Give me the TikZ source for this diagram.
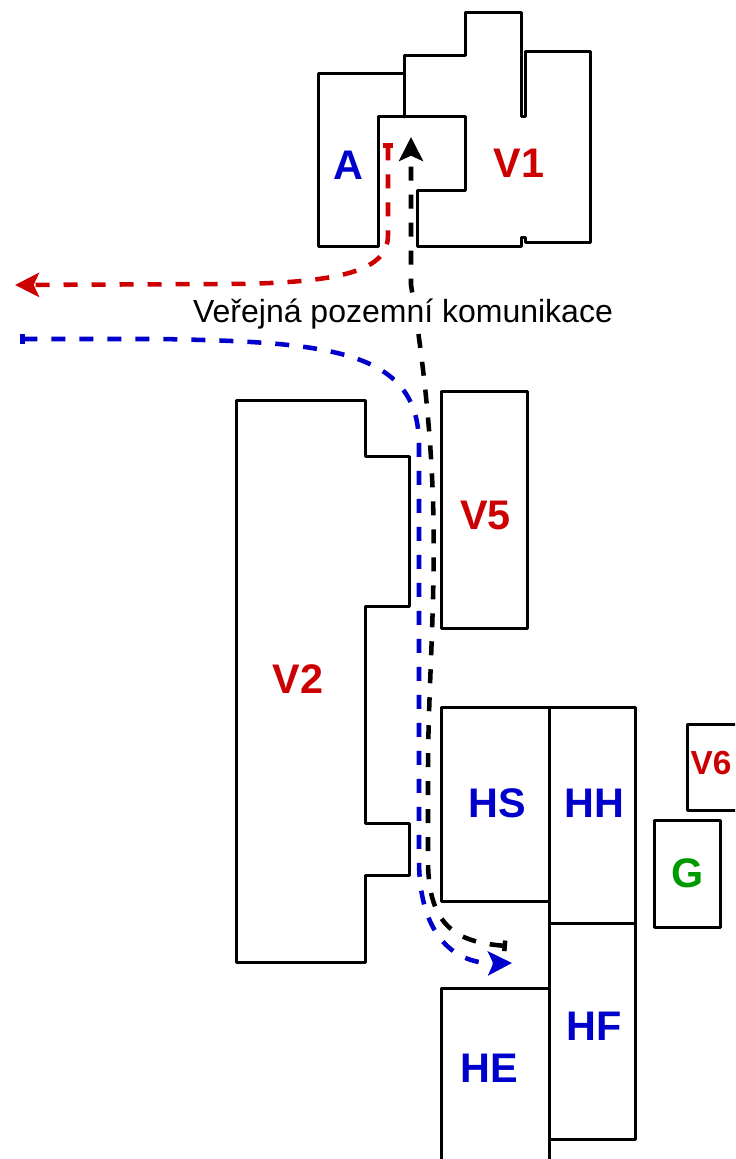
\documentclass[tikz,border=0pt]{standalone}
\usepackage{fontspec}
\setmainfont{Liberation Sans}
\usetikzlibrary{arrows.meta}
\definecolor{routered}{HTML}{CC0000}
\definecolor{routeblue}{HTML}{0000CC}
\definecolor{routegreen}{HTML}{009900}
\begin{document}
\begin{tikzpicture}[line cap=round,line join=round,x=0.75pt,y=-0.75pt,
  building/.style={line width=2.25pt},
  route/.style={line width=3.4pt,line cap=butt,dash pattern=on 10.5pt off 10.5pt},
  routetips/.style={{Bar[width=8pt,length=3pt]}-{Stealth[length=18pt,width=18pt,inset=4pt]}},
  biglabel/.style={font=\bfseries\fontsize{31}{31}\selectfont,inner sep=0pt},
  roadlabel/.style={font=\fontsize{24}{24}\selectfont,fill=white,inner sep=2pt}]
\useasboundingbox (0,0) rectangle (735,1159);
\clip (0,0) rectangle (735,1159);
\draw [building] (404,117) -- (404,74) -- (318,74) -- (318,246) -- (378,246) -- (378,117) -- (465,117) -- (465,190) -- (417,190) -- (417,246) -- (521,246) -- (521,237) -- (525,237) -- (525,242) -- (590,242) -- (590,52) -- (525,52) -- (525,117) -- (521,117) -- (521,13) -- (465,13) -- (465,56) -- (404,56) -- cycle;
\draw [building] (236,400) -- (365,400) -- (365,456) -- (409,456) -- (409,606) -- (365,606) -- (365,823) -- (409,823) -- (409,875) -- (365,875) -- (365,962) -- (236,962) -- cycle;
\draw [building] (441,391) rectangle (527,628);
\draw [building] (441,707) rectangle (549,901);
\draw [building] (549,707) rectangle (635,923);
\draw [building] (549,923) rectangle (635,1139);
\draw [building] (441,988) rectangle (549,1175);
\draw [building] (687,724) rectangle (745,810);
\draw [building] (654,820) rectangle (720,927);
\coordinate (redstart) at (388,143);
\coordinate (redend) at (15,285);
\coordinate (bluestart) at (20,339);
\coordinate (blueend) at (512,963);
\coordinate (blackstart) at (507,946);
\coordinate (blackend) at (411,137);
\draw [route,routered,routetips] (redstart) -- (388,235) .. controls (388,268) and (350,284) .. (220,284) -- (redend);
\draw [route,routetips] (blackstart) .. controls (455,942) and (428,925) .. (428,860) -- (428,770) .. controls (428,690) and (436,600) .. (433,500) .. controls (431,440) and (425,370) .. (411,285) -- (blackend);
\node [roadlabel] (roadname) at (403,314) {Veřejná pozemní komunikace};
\draw [route,routeblue,routetips] (bluestart) -- (160,339) .. controls (330,342) and (419,350) .. (419,445) -- (419,860) .. controls (419,930) and (450,964) .. (blueend);
\node [biglabel,routeblue] (labA) at (348.5,165) {A};
\node [biglabel,routered] (labVone) at (519,163) {V1};
\node [biglabel,routered] (labVtwo) at (298,679) {V2};
\node [biglabel,routered] (labVfive) at (485.5,515) {V5};
\node [biglabel,routeblue] (labHS) at (497,803) {HS};
\node [biglabel,routeblue] (labHH) at (594.5,803) {HH};
\node [biglabel,routeblue] (labHF) at (594.5,1026) {HF};
\node [biglabel,routeblue] (labHE) at (489,1068) {HE};
\node [biglabel,routered,font=\bfseries\fontsize{25}{25}\selectfont] (labVsix) at (711,763) {V6};
\node [biglabel,routegreen] (labG) at (688,873) {G};
\end{tikzpicture}
\end{document}
